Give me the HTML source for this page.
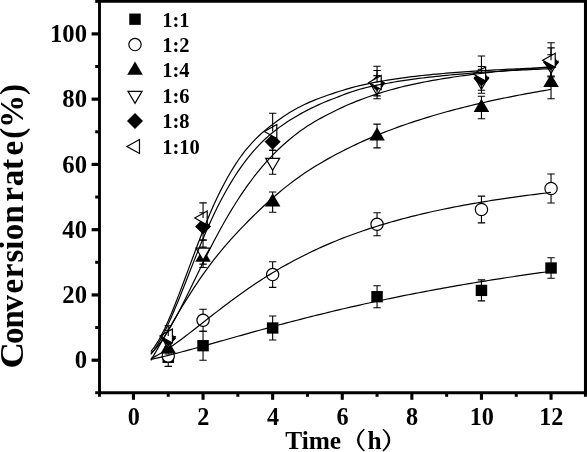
<!DOCTYPE html>
<html><head><meta charset="utf-8"><title>chart</title>
<style>
html,body{margin:0;padding:0;background:#fff;}
body{width:587px;height:452px;overflow:hidden;}
svg{display:block;filter:grayscale(1);}
text{font-family:"Liberation Serif",serif;font-weight:bold;fill:#000;}
.tk{font-size:24.7px;}
.tx{font-size:24.2px;}
.lg{font-size:20.5px;}
.yl{font-size:33.1px;}
.xl{font-size:25.4px;}
</style></head><body>
<svg width="587" height="452" viewBox="0 0 587 452">
<rect width="587" height="452" fill="#fff"/>
<path d="M168.25 348.20 V366.40 M164.55 348.20 H171.95 M164.55 366.40 H171.95" stroke="#000" stroke-width="1.1" fill="none"/>
<rect x="162.50" y="351.65" width="11.5" height="11.3" fill="#000"/>
<path d="M203.05 331.20 V360.20 M199.35 331.20 H206.75 M199.35 360.20 H206.75" stroke="#000" stroke-width="1.1" fill="none"/>
<rect x="197.30" y="340.05" width="11.5" height="11.3" fill="#000"/>
<path d="M272.65 316.00 V340.00 M268.95 316.00 H276.35 M268.95 340.00 H276.35" stroke="#000" stroke-width="1.1" fill="none"/>
<rect x="266.90" y="322.35" width="11.5" height="11.3" fill="#000"/>
<path d="M377.05 285.70 V307.70 M373.35 285.70 H380.75 M373.35 307.70 H380.75" stroke="#000" stroke-width="1.1" fill="none"/>
<rect x="371.30" y="291.05" width="11.5" height="11.3" fill="#000"/>
<path d="M481.45 279.90 V300.90 M477.75 279.90 H485.15 M477.75 300.90 H485.15" stroke="#000" stroke-width="1.1" fill="none"/>
<rect x="475.70" y="284.75" width="11.5" height="11.3" fill="#000"/>
<path d="M551.05 257.70 V278.30 M547.35 257.70 H554.75 M547.35 278.30 H554.75" stroke="#000" stroke-width="1.1" fill="none"/>
<rect x="545.30" y="262.35" width="11.5" height="11.3" fill="#000"/>
<path d="M168.25 350.00 V362.00 M164.55 350.00 H171.95 M164.55 362.00 H171.95" stroke="#000" stroke-width="1.1" fill="none"/>
<circle cx="168.25" cy="356.00" r="6.15" fill="#fff" stroke="#000" stroke-width="1.2"/>
<path d="M203.05 309.30 V331.30 M199.35 309.30 H206.75 M199.35 331.30 H206.75" stroke="#000" stroke-width="1.1" fill="none"/>
<circle cx="203.05" cy="320.30" r="6.15" fill="#fff" stroke="#000" stroke-width="1.2"/>
<path d="M272.65 261.80 V287.40 M268.95 261.80 H276.35 M268.95 287.40 H276.35" stroke="#000" stroke-width="1.1" fill="none"/>
<circle cx="272.65" cy="274.60" r="6.15" fill="#fff" stroke="#000" stroke-width="1.2"/>
<path d="M377.05 212.80 V235.80 M373.35 212.80 H380.75 M373.35 235.80 H380.75" stroke="#000" stroke-width="1.1" fill="none"/>
<circle cx="377.05" cy="224.30" r="6.15" fill="#fff" stroke="#000" stroke-width="1.2"/>
<path d="M481.45 196.10 V222.90 M477.75 196.10 H485.15 M477.75 222.90 H485.15" stroke="#000" stroke-width="1.1" fill="none"/>
<circle cx="481.45" cy="209.50" r="6.15" fill="#fff" stroke="#000" stroke-width="1.2"/>
<path d="M551.05 174.00 V203.00 M547.35 174.00 H554.75 M547.35 203.00 H554.75" stroke="#000" stroke-width="1.1" fill="none"/>
<circle cx="551.05" cy="188.50" r="6.15" fill="#fff" stroke="#000" stroke-width="1.2"/>
<path d="M168.25 344.00 V354.00 M164.55 344.00 H171.95 M164.55 354.00 H171.95" stroke="#000" stroke-width="1.1" fill="none"/>
<path d="M168.25 340.20 L176.05 353.40 L160.45 353.40 Z" fill="#000"/>
<path d="M203.05 247.10 V267.50 M199.35 247.10 H206.75 M199.35 267.50 H206.75" stroke="#000" stroke-width="1.1" fill="none"/>
<path d="M203.05 248.50 L210.85 261.70 L195.25 261.70 Z" fill="#000"/>
<path d="M272.65 192.00 V212.20 M268.95 192.00 H276.35 M268.95 212.20 H276.35" stroke="#000" stroke-width="1.1" fill="none"/>
<path d="M272.65 193.30 L280.45 206.50 L264.85 206.50 Z" fill="#000"/>
<path d="M377.05 124.10 V147.90 M373.35 124.10 H380.75 M373.35 147.90 H380.75" stroke="#000" stroke-width="1.1" fill="none"/>
<path d="M377.05 127.20 L384.85 140.40 L369.25 140.40 Z" fill="#000"/>
<path d="M481.45 96.30 V118.70 M477.75 96.30 H485.15 M477.75 118.70 H485.15" stroke="#000" stroke-width="1.1" fill="none"/>
<path d="M481.45 98.70 L489.25 111.90 L473.65 111.90 Z" fill="#000"/>
<path d="M551.05 66.70 V98.70 M547.35 66.70 H554.75 M547.35 98.70 H554.75" stroke="#000" stroke-width="1.1" fill="none"/>
<path d="M551.05 73.90 L558.85 87.10 L543.25 87.10 Z" fill="#000"/>
<path d="M168.25 332.50 V348.50 M164.55 332.50 H171.95 M164.55 348.50 H171.95" stroke="#000" stroke-width="1.1" fill="none"/>
<path d="M168.25 348.50 L175.25 336.50 L161.25 336.50 Z" fill="#fff" stroke="#000" stroke-width="1.2"/>
<path d="M203.05 240.10 V264.10 M199.35 240.10 H206.75 M199.35 264.10 H206.75" stroke="#000" stroke-width="1.1" fill="none"/>
<path d="M203.05 260.10 L210.05 248.10 L196.05 248.10 Z" fill="#fff" stroke="#000" stroke-width="1.2"/>
<path d="M272.65 150.30 V174.30 M268.95 150.30 H276.35 M268.95 174.30 H276.35" stroke="#000" stroke-width="1.1" fill="none"/>
<path d="M272.65 170.30 L279.65 158.30 L265.65 158.30 Z" fill="#fff" stroke="#000" stroke-width="1.2"/>
<path d="M377.05 75.60 V98.80 M373.35 75.60 H380.75 M373.35 98.80 H380.75" stroke="#000" stroke-width="1.1" fill="none"/>
<path d="M377.05 95.20 L384.05 83.20 L370.05 83.20 Z" fill="#fff" stroke="#000" stroke-width="1.2"/>
<path d="M481.45 69.30 V93.30 M477.75 69.30 H485.15 M477.75 93.30 H485.15" stroke="#000" stroke-width="1.1" fill="none"/>
<path d="M481.45 89.30 L488.45 77.30 L474.45 77.30 Z" fill="#fff" stroke="#000" stroke-width="1.2"/>
<path d="M551.05 54.80 V76.00 M547.35 54.80 H554.75 M547.35 76.00 H554.75" stroke="#000" stroke-width="1.1" fill="none"/>
<path d="M551.05 73.40 L558.05 61.40 L544.05 61.40 Z" fill="#fff" stroke="#000" stroke-width="1.2"/>
<path d="M168.25 330.20 V346.20 M164.55 330.20 H171.95 M164.55 346.20 H171.95" stroke="#000" stroke-width="1.1" fill="none"/>
<path d="M168.25 330.20 L176.25 338.20 L168.25 346.20 L160.25 338.20 Z" fill="#000"/>
<path d="M203.05 212.80 V240.00 M199.35 212.80 H206.75 M199.35 240.00 H206.75" stroke="#000" stroke-width="1.1" fill="none"/>
<path d="M203.05 218.40 L211.05 226.40 L203.05 234.40 L195.05 226.40 Z" fill="#000"/>
<path d="M272.65 133.10 V150.30 M268.95 133.10 H276.35 M268.95 150.30 H276.35" stroke="#000" stroke-width="1.1" fill="none"/>
<path d="M272.65 133.70 L280.65 141.70 L272.65 149.70 L264.65 141.70 Z" fill="#000"/>
<path d="M377.05 70.50 V95.90 M373.35 70.50 H380.75 M373.35 95.90 H380.75" stroke="#000" stroke-width="1.1" fill="none"/>
<path d="M377.05 75.20 L385.05 83.20 L377.05 91.20 L369.05 83.20 Z" fill="#000"/>
<path d="M481.45 66.50 V90.30 M477.75 66.50 H485.15 M477.75 90.30 H485.15" stroke="#000" stroke-width="1.1" fill="none"/>
<path d="M481.45 70.40 L489.45 78.40 L481.45 86.40 L473.45 78.40 Z" fill="#000"/>
<path d="M551.05 47.90 V76.90 M547.35 47.90 H554.75 M547.35 76.90 H554.75" stroke="#000" stroke-width="1.1" fill="none"/>
<path d="M551.05 54.40 L559.05 62.40 L551.05 70.40 L543.05 62.40 Z" fill="#000"/>
<path d="M159.92 336.00 L172.42 329.00 L172.42 343.00 Z" fill="#fff" stroke="#000" stroke-width="1.2"/>
<path d="M168.25 325.70 V336.00 M164.55 325.70 H171.95" stroke="#000" stroke-width="1.1" fill="none"/>
<path d="M194.72 217.90 L207.22 210.90 L207.22 224.90 Z" fill="#fff" stroke="#000" stroke-width="1.2"/>
<path d="M203.05 202.90 V217.90 M199.35 202.90 H206.75" stroke="#000" stroke-width="1.1" fill="none"/>
<path d="M264.32 131.50 L276.82 124.50 L276.82 138.50 Z" fill="#fff" stroke="#000" stroke-width="1.2"/>
<path d="M272.65 113.30 V131.50 M268.95 113.30 H276.35" stroke="#000" stroke-width="1.1" fill="none"/>
<path d="M368.72 82.40 L381.22 75.40 L381.22 89.40 Z" fill="#fff" stroke="#000" stroke-width="1.2"/>
<path d="M377.05 66.20 V82.40 M373.35 66.20 H380.75" stroke="#000" stroke-width="1.1" fill="none"/>
<path d="M473.12 74.10 L485.62 67.10 L485.62 81.10 Z" fill="#fff" stroke="#000" stroke-width="1.2"/>
<path d="M481.45 56.00 V74.10 M477.75 56.00 H485.15" stroke="#000" stroke-width="1.1" fill="none"/>
<path d="M542.72 60.30 L555.22 53.30 L555.22 67.30 Z" fill="#fff" stroke="#000" stroke-width="1.2"/>
<path d="M551.05 42.80 V60.30 M547.35 42.80 H554.75" stroke="#000" stroke-width="1.1" fill="none"/>
<path d="M150.85 359.33 L154.33 358.60 L157.81 357.83 L161.29 357.04 L164.77 356.21 L168.25 355.37 L171.73 354.50 L175.21 353.61 L178.69 352.71 L182.17 351.79 L185.65 350.86 L189.13 349.92 L192.61 348.97 L196.09 348.02 L199.57 347.06 L203.05 346.09 L206.53 345.11 L210.01 344.14 L213.49 343.16 L216.97 342.18 L220.45 341.19 L223.93 340.21 L227.41 339.23 L230.89 338.25 L234.37 337.26 L237.85 336.28 L241.33 335.31 L244.81 334.33 L248.29 333.36 L251.77 332.39 L255.25 331.43 L258.73 330.46 L262.21 329.51 L265.69 328.55 L269.17 327.60 L272.65 326.66 L276.13 325.72 L279.61 324.79 L283.09 323.86 L286.57 322.94 L290.05 322.02 L293.53 321.11 L297.01 320.21 L300.49 319.31 L303.97 318.42 L307.45 317.54 L310.93 316.66 L314.41 315.78 L317.89 314.92 L321.37 314.06 L324.85 313.21 L328.33 312.36 L331.81 311.52 L335.29 310.69 L338.77 309.86 L342.25 309.04 L345.73 308.23 L349.21 307.43 L352.69 306.63 L356.17 305.84 L359.65 305.05 L363.13 304.27 L366.61 303.50 L370.09 302.74 L373.57 301.98 L377.05 301.23 L380.53 300.48 L384.01 299.74 L387.49 299.01 L390.97 298.29 L394.45 297.57 L397.93 296.86 L401.41 296.15 L404.89 295.45 L408.37 294.76 L411.85 294.07 L415.33 293.39 L418.81 292.72 L422.29 292.05 L425.77 291.39 L429.25 290.74 L432.73 290.09 L436.21 289.45 L439.69 288.81 L443.17 288.18 L446.65 287.55 L450.13 286.93 L453.61 286.32 L457.09 285.71 L460.57 285.11 L464.05 284.51 L467.53 283.92 L471.01 283.34 L474.49 282.76 L477.97 282.18 L481.45 281.61 L484.93 281.05 L488.41 280.49 L491.89 279.94 L495.37 279.39 L498.85 278.85 L502.33 278.31 L505.81 277.78 L509.29 277.25 L512.77 276.72 L516.25 276.21 L519.73 275.69 L523.21 275.18 L526.69 274.68 L530.17 274.18 L533.65 273.69 L537.13 273.20 L540.61 272.71 L544.09 272.23 L547.57 271.75 L551.05 271.28" fill="none" stroke="#000" stroke-width="1.2"/>
<path d="M150.85 358.57 L154.33 356.86 L157.81 354.99 L161.29 352.97 L164.77 350.82 L168.25 348.56 L171.73 346.20 L175.21 343.76 L178.69 341.24 L182.17 338.67 L185.65 336.05 L189.13 333.38 L192.61 330.69 L196.09 327.98 L199.57 325.25 L203.05 322.52 L206.53 319.79 L210.01 317.06 L213.49 314.34 L216.97 311.64 L220.45 308.96 L223.93 306.30 L227.41 303.67 L230.89 301.06 L234.37 298.49 L237.85 295.96 L241.33 293.46 L244.81 290.99 L248.29 288.57 L251.77 286.18 L255.25 283.84 L258.73 281.53 L262.21 279.27 L265.69 277.05 L269.17 274.88 L272.65 272.74 L276.13 270.65 L279.61 268.60 L283.09 266.60 L286.57 264.63 L290.05 262.71 L293.53 260.82 L297.01 258.98 L300.49 257.18 L303.97 255.41 L307.45 253.69 L310.93 252.00 L314.41 250.35 L317.89 248.74 L321.37 247.16 L324.85 245.61 L328.33 244.11 L331.81 242.63 L335.29 241.19 L338.77 239.78 L342.25 238.40 L345.73 237.06 L349.21 235.74 L352.69 234.45 L356.17 233.19 L359.65 231.96 L363.13 230.76 L366.61 229.58 L370.09 228.43 L373.57 227.31 L377.05 226.21 L380.53 225.13 L384.01 224.08 L387.49 223.05 L390.97 222.04 L394.45 221.06 L397.93 220.09 L401.41 219.15 L404.89 218.23 L408.37 217.32 L411.85 216.44 L415.33 215.57 L418.81 214.73 L422.29 213.90 L425.77 213.09 L429.25 212.29 L432.73 211.51 L436.21 210.75 L439.69 210.00 L443.17 209.27 L446.65 208.55 L450.13 207.85 L453.61 207.16 L457.09 206.49 L460.57 205.83 L464.05 205.18 L467.53 204.55 L471.01 203.93 L474.49 203.31 L477.97 202.72 L481.45 202.13 L484.93 201.55 L488.41 200.99 L491.89 200.44 L495.37 199.89 L498.85 199.36 L502.33 198.84 L505.81 198.32 L509.29 197.82 L512.77 197.33 L516.25 196.84 L519.73 196.36 L523.21 195.90 L526.69 195.44 L530.17 194.99 L533.65 194.54 L537.13 194.11 L540.61 193.68 L544.09 193.26 L547.57 192.85 L551.05 192.44" fill="none" stroke="#000" stroke-width="1.2"/>
<path d="M150.85 360.41 L154.33 354.41 L157.81 348.33 L161.29 342.22 L164.77 336.12 L168.25 330.05 L171.73 324.03 L175.21 318.09 L178.69 312.24 L182.17 306.50 L185.65 300.85 L189.13 295.33 L192.61 289.92 L196.09 284.63 L199.57 279.46 L203.05 274.42 L206.53 269.53 L210.01 264.80 L213.49 260.23 L216.97 255.81 L220.45 251.53 L223.93 247.38 L227.41 243.34 L230.89 239.41 L234.37 235.58 L237.85 231.84 L241.33 228.17 L244.81 224.57 L248.29 221.02 L251.77 217.52 L255.25 214.09 L258.73 210.73 L262.21 207.44 L265.69 204.21 L269.17 201.05 L272.65 197.97 L276.13 194.95 L279.61 192.01 L283.09 189.15 L286.57 186.35 L290.05 183.64 L293.53 181.00 L297.01 178.45 L300.49 175.97 L303.97 173.58 L307.45 171.27 L310.93 169.04 L314.41 166.85 L317.89 164.72 L321.37 162.65 L324.85 160.62 L328.33 158.64 L331.81 156.70 L335.29 154.81 L338.77 152.97 L342.25 151.17 L345.73 149.40 L349.21 147.68 L352.69 146.00 L356.17 144.35 L359.65 142.74 L363.13 141.17 L366.61 139.63 L370.09 138.13 L373.57 136.65 L377.05 135.21 L380.53 133.80 L384.01 132.42 L387.49 131.06 L390.97 129.74 L394.45 128.44 L397.93 127.17 L401.41 125.92 L404.89 124.70 L408.37 123.51 L411.85 122.34 L415.33 121.19 L418.81 120.06 L422.29 118.96 L425.77 117.87 L429.25 116.81 L432.73 115.77 L436.21 114.74 L439.69 113.74 L443.17 112.76 L446.65 111.79 L450.13 110.84 L453.61 109.91 L457.09 108.99 L460.57 108.09 L464.05 107.21 L467.53 106.35 L471.01 105.49 L474.49 104.66 L477.97 103.84 L481.45 103.03 L484.93 102.24 L488.41 101.45 L491.89 100.69 L495.37 99.93 L498.85 99.19 L502.33 98.46 L505.81 97.75 L509.29 97.04 L512.77 96.35 L516.25 95.66 L519.73 94.99 L523.21 94.33 L526.69 93.68 L530.17 93.04 L533.65 92.41 L537.13 91.79 L540.61 91.18 L544.09 90.58 L547.57 89.99 L551.05 89.40" fill="none" stroke="#000" stroke-width="1.2"/>
<path d="M150.85 353.52 L154.33 350.05 L157.81 346.00 L161.29 341.40 L164.77 336.29 L168.25 330.74 L171.73 324.79 L175.21 318.51 L178.69 311.95 L182.17 305.17 L185.65 298.22 L189.13 291.17 L192.61 284.04 L196.09 276.90 L199.57 269.78 L203.05 262.71 L206.53 255.72 L210.01 248.85 L213.49 242.10 L216.97 235.51 L220.45 229.08 L223.93 222.83 L227.41 216.76 L230.89 210.89 L234.37 205.21 L237.85 199.73 L241.33 194.44 L244.81 189.35 L248.29 184.45 L251.77 179.74 L255.25 175.21 L258.73 170.87 L262.21 166.70 L265.69 162.70 L269.17 158.87 L272.65 155.19 L276.13 151.67 L279.61 148.30 L283.09 145.06 L286.57 141.97 L290.05 139.00 L293.53 136.15 L297.01 133.42 L300.49 130.84 L303.97 128.39 L307.45 126.09 L310.93 123.90 L314.41 121.81 L317.89 119.82 L321.37 117.89 L324.85 116.03 L328.33 114.21 L331.81 112.43 L335.29 110.69 L338.77 109.01 L342.25 107.39 L345.73 105.82 L349.21 104.30 L352.69 102.84 L356.17 101.42 L359.65 100.07 L363.13 98.76 L366.61 97.50 L370.09 96.29 L373.57 95.11 L377.05 93.97 L380.53 92.87 L384.01 91.80 L387.49 90.77 L390.97 89.78 L394.45 88.82 L397.93 87.90 L401.41 87.02 L404.89 86.17 L408.37 85.36 L411.85 84.58 L415.33 83.83 L418.81 83.11 L422.29 82.41 L425.77 81.74 L429.25 81.08 L432.73 80.45 L436.21 79.83 L439.69 79.24 L443.17 78.66 L446.65 78.10 L450.13 77.56 L453.61 77.03 L457.09 76.52 L460.57 76.02 L464.05 75.54 L467.53 75.07 L471.01 74.62 L474.49 74.17 L477.97 73.74 L481.45 73.33 L484.93 72.92 L488.41 72.53 L491.89 72.14 L495.37 71.77 L498.85 71.40 L502.33 71.05 L505.81 70.71 L509.29 70.37 L512.77 70.04 L516.25 69.73 L519.73 69.42 L523.21 69.11 L526.69 68.82 L530.17 68.53 L533.65 68.25 L537.13 67.98 L540.61 67.71 L544.09 67.45 L547.57 67.20 L551.05 66.95" fill="none" stroke="#000" stroke-width="1.2"/>
<path d="M150.85 354.31 L154.33 349.76 L157.81 344.39 L161.29 338.25 L164.77 331.44 L168.25 324.05 L171.73 316.23 L175.21 308.09 L178.69 299.68 L182.17 291.04 L185.65 282.20 L189.13 273.28 L192.61 264.40 L196.09 255.63 L199.57 247.03 L203.05 238.65 L206.53 230.53 L210.01 222.71 L213.49 215.19 L216.97 208.01 L220.45 201.18 L223.93 194.67 L227.41 188.48 L230.89 182.59 L234.37 177.00 L237.85 171.70 L241.33 166.67 L244.81 161.91 L248.29 157.41 L251.77 153.14 L255.25 149.10 L258.73 145.32 L262.21 141.79 L265.69 138.49 L269.17 135.40 L272.65 132.49 L276.13 129.74 L279.61 127.12 L283.09 124.64 L286.57 122.30 L290.05 120.09 L293.53 117.96 L297.01 115.90 L300.49 113.89 L303.97 111.98 L307.45 110.14 L310.93 108.38 L314.41 106.70 L317.89 105.09 L321.37 103.55 L324.85 102.07 L328.33 100.65 L331.81 99.29 L335.29 97.94 L338.77 96.59 L342.25 95.25 L345.73 93.93 L349.21 92.66 L352.69 91.45 L356.17 90.31 L359.65 89.25 L363.13 88.31 L366.61 87.47 L370.09 86.69 L373.57 85.94 L377.05 85.21 L380.53 84.52 L384.01 83.86 L387.49 83.22 L390.97 82.60 L394.45 82.01 L397.93 81.44 L401.41 80.90 L404.89 80.37 L408.37 79.86 L411.85 79.37 L415.33 78.90 L418.81 78.45 L422.29 78.01 L425.77 77.59 L429.25 77.18 L432.73 76.78 L436.21 76.40 L439.69 76.03 L443.17 75.68 L446.65 75.33 L450.13 75.00 L453.61 74.68 L457.09 74.37 L460.57 74.07 L464.05 73.78 L467.53 73.49 L471.01 73.22 L474.49 72.95 L477.97 72.70 L481.45 72.45 L484.93 72.20 L488.41 71.97 L491.89 71.74 L495.37 71.52 L498.85 71.30 L502.33 71.09 L505.81 70.89 L509.29 70.69 L512.77 70.50 L516.25 70.32 L519.73 70.13 L523.21 69.96 L526.69 69.79 L530.17 69.62 L533.65 69.46 L537.13 69.30 L540.61 69.15 L544.09 69.00 L547.57 68.85 L551.05 68.71" fill="none" stroke="#000" stroke-width="1.2"/>
<path d="M150.85 351.53 L154.33 347.06 L157.81 341.68 L161.29 335.46 L164.77 328.48 L168.25 320.85 L171.73 312.66 L175.21 304.04 L178.69 295.10 L182.17 285.95 L185.65 276.70 L189.13 267.37 L192.61 258.00 L196.09 248.70 L199.57 239.53 L203.05 230.58 L206.53 221.91 L210.01 213.56 L213.49 205.59 L216.97 198.02 L220.45 190.89 L223.93 184.16 L227.41 177.78 L230.89 171.75 L234.37 166.07 L237.85 160.72 L241.33 155.77 L244.81 151.23 L248.29 147.03 L251.77 143.12 L255.25 139.43 L258.73 135.99 L262.21 132.81 L265.69 129.85 L269.17 127.05 L272.65 124.37 L276.13 121.74 L279.61 119.18 L283.09 116.76 L286.57 114.46 L290.05 112.28 L293.53 110.23 L297.01 108.29 L300.49 106.47 L303.97 104.75 L307.45 103.13 L310.93 101.60 L314.41 100.14 L317.89 98.76 L321.37 97.45 L324.85 96.19 L328.33 94.97 L331.81 93.81 L335.29 92.66 L338.77 91.55 L342.25 90.46 L345.73 89.41 L349.21 88.39 L352.69 87.42 L356.17 86.49 L359.65 85.62 L363.13 84.80 L366.61 84.04 L370.09 83.31 L373.57 82.62 L377.05 81.96 L380.53 81.33 L384.01 80.72 L387.49 80.14 L390.97 79.58 L394.45 79.05 L397.93 78.54 L401.41 78.05 L404.89 77.58 L408.37 77.13 L411.85 76.70 L415.33 76.29 L418.81 75.89 L422.29 75.51 L425.77 75.14 L429.25 74.78 L432.73 74.44 L436.21 74.11 L439.69 73.79 L443.17 73.48 L446.65 73.19 L450.13 72.90 L453.61 72.62 L457.09 72.35 L460.57 72.10 L464.05 71.84 L467.53 71.60 L471.01 71.37 L474.49 71.14 L477.97 70.92 L481.45 70.71 L484.93 70.50 L488.41 70.30 L491.89 70.11 L495.37 69.92 L498.85 69.74 L502.33 69.56 L505.81 69.39 L509.29 69.22 L512.77 69.06 L516.25 68.90 L519.73 68.75 L523.21 68.60 L526.69 68.46 L530.17 68.32 L533.65 68.18 L537.13 68.05 L540.61 67.92 L544.09 67.79 L547.57 67.67 L551.05 67.55" fill="none" stroke="#000" stroke-width="1.2"/>
<path d="M99.50 0 V394.15 M98.05 392.70 H587 M98.05 1.40 H587" stroke="#000" stroke-width="2.90" fill="none"/>
<rect x="583.95" y="0" width="3.2" height="394.15" fill="#000"/>
<path d="M95.2 392.70 H99.50" stroke="#000" stroke-width="2.90"/>
<path d="M91.6 360.20 H99.50" stroke="#000" stroke-width="3.2"/>
<path d="M95.2 327.57 H99.50" stroke="#000" stroke-width="3.00"/>
<path d="M91.6 294.94 H99.50" stroke="#000" stroke-width="3.2"/>
<path d="M95.2 262.31 H99.50" stroke="#000" stroke-width="3.00"/>
<path d="M91.6 229.68 H99.50" stroke="#000" stroke-width="3.2"/>
<path d="M95.2 197.05 H99.50" stroke="#000" stroke-width="3.00"/>
<path d="M91.6 164.42 H99.50" stroke="#000" stroke-width="3.2"/>
<path d="M95.2 131.79 H99.50" stroke="#000" stroke-width="3.00"/>
<path d="M91.6 99.16 H99.50" stroke="#000" stroke-width="3.2"/>
<path d="M95.2 66.53 H99.50" stroke="#000" stroke-width="3.00"/>
<path d="M91.6 33.90 H99.50" stroke="#000" stroke-width="3.2"/>
<path d="M95.2 1.40 H99.50" stroke="#000" stroke-width="2.90"/>
<path d="M99.50 392.70 V396.8" stroke="#000" stroke-width="2.90"/>
<path d="M133.45 392.70 V399.8" stroke="#000" stroke-width="3.1"/>
<path d="M168.25 392.70 V396.8" stroke="#000" stroke-width="3.00"/>
<path d="M203.05 392.70 V399.8" stroke="#000" stroke-width="3.1"/>
<path d="M237.85 392.70 V396.8" stroke="#000" stroke-width="3.00"/>
<path d="M272.65 392.70 V399.8" stroke="#000" stroke-width="3.1"/>
<path d="M307.45 392.70 V396.8" stroke="#000" stroke-width="3.00"/>
<path d="M342.25 392.70 V399.8" stroke="#000" stroke-width="3.1"/>
<path d="M377.05 392.70 V396.8" stroke="#000" stroke-width="3.00"/>
<path d="M411.85 392.70 V399.8" stroke="#000" stroke-width="3.1"/>
<path d="M446.65 392.70 V396.8" stroke="#000" stroke-width="3.00"/>
<path d="M481.45 392.70 V399.8" stroke="#000" stroke-width="3.1"/>
<path d="M516.25 392.70 V396.8" stroke="#000" stroke-width="3.00"/>
<path d="M551.05 392.70 V399.8" stroke="#000" stroke-width="3.1"/>
<path d="M585.40 392.70 V396.8" stroke="#000" stroke-width="2.90"/>
<text x="87.0" y="368.40" text-anchor="end" class="tk">0</text>
<text x="87.0" y="303.14" text-anchor="end" class="tk">20</text>
<text x="87.0" y="237.88" text-anchor="end" class="tk">40</text>
<text x="87.0" y="172.62" text-anchor="end" class="tk">60</text>
<text x="87.0" y="107.36" text-anchor="end" class="tk">80</text>
<text x="87.0" y="42.10" text-anchor="end" class="tk">100</text>
<text x="133.75" y="424.8" text-anchor="middle" class="tk tx">0</text>
<text x="203.35" y="424.8" text-anchor="middle" class="tk tx">2</text>
<text x="272.95" y="424.8" text-anchor="middle" class="tk tx">4</text>
<text x="342.55" y="424.8" text-anchor="middle" class="tk tx">6</text>
<text x="412.15" y="424.8" text-anchor="middle" class="tk tx">8</text>
<text x="481.75" y="424.8" text-anchor="middle" class="tk tx">10</text>
<text x="551.35" y="424.8" text-anchor="middle" class="tk tx">12</text>
<rect x="129.25" y="13.55" width="11.5" height="11.3" fill="#000"/>
<text x="162.2" y="26.50" class="lg">1:1</text>
<circle cx="135.00" cy="44.60" r="6.15" fill="#fff" stroke="#000" stroke-width="1.2"/>
<text x="162.2" y="51.90" class="lg">1:2</text>
<path d="M135.00 61.50 L142.80 74.70 L127.20 74.70 Z" fill="#000"/>
<text x="162.2" y="77.30" class="lg">1:4</text>
<path d="M135.00 103.40 L142.00 91.40 L128.00 91.40 Z" fill="#fff" stroke="#000" stroke-width="1.2"/>
<text x="162.2" y="102.80" class="lg">1:6</text>
<path d="M135.00 112.90 L143.00 120.90 L135.00 128.90 L127.00 120.90 Z" fill="#000"/>
<text x="162.2" y="128.20" class="lg">1:8</text>
<path d="M126.97 146.50 L139.47 139.50 L139.47 153.50 Z" fill="#fff" stroke="#000" stroke-width="1.2"/>
<text x="162.2" y="153.80" class="lg">1:10</text>
<g transform="translate(23.1,367.3) rotate(-90)">
<text class="yl" transform="scale(1.11,1)" x="-1.1" y="0">C</text>
<text class="yl" x="23.9" y="0" dx="-0.5 -1.15 -1.3 1.45 0.45 1.05 0 0.3 0.2 0 -4.95 0.85 -0.35 3.5 1.9 -0.3 0.05">onversion rate(%)</text>
</g>
<text class="xl" x="285.2" y="448.6">Time</text>
<text class="xl" x="367.6" y="448.6">h</text>
<path d="M363.7 428.8 Q350.3 440 363.7 451.4 L364.9 450.6 Q353.9 440 364.9 429.6 Z" fill="#000"/>
<path d="M383.6 428.8 Q397.0 440 383.6 451.4 L382.4 450.6 Q393.4 440 382.4 429.6 Z" fill="#000"/>
</svg>
</body></html>
